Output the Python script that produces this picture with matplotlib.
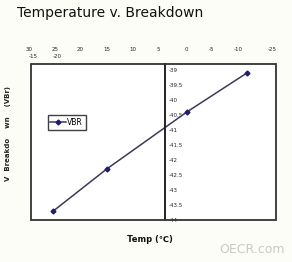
import matplotlib.pyplot as plt
from matplotlib.patches import Rectangle
import numpy as np

# data
temps = [25, 13, -5, -18.5]
vbr = [-43.7, -42.3, -40.4, -39.1]

# top tick labels as they appear (misaligned in the original)
top_labels = ["30", "25", "20", "15", "10", "5", "0", "-5", "-10", "-25"]
top_label_pos = [30.4, 24.6, 19.0, 12.9, 7.1, 1.3, -5.0, -10.6, -16.5, -24.1]
second_row_labels = ["-15", "-20"]
second_row_pos = [29.5, 24.2]

y_ticks = np.arange(-44, -38.9, 0.5)

fig = plt.figure(figsize=(2.92, 2.62), dpi=100)
fig.patch.set_facecolor("#fdfdf8")

fig.text(0.058, 0.95, "Temperature v. Breakdown", fontsize=10, va="center",
         ha="left", color="#111111")

ax = fig.add_axes([0.106, 0.160, 0.839, 0.596])
ax.set_facecolor("white")

ax.plot(temps, vbr, color="#3a3a5c", lw=1.1, marker="D", markersize=2.5,
        markerfacecolor="#1f1f6e", markeredgecolor="#1f1f6e", label="VBR")

ax.set_xlim(30, -25)
ax.set_ylim(-44, -38.8)

# middle vertical axis at temp 0 with labels on its right
for s in ["top", "bottom", "left"]:
    ax.spines[s].set_visible(False)
ax.spines["right"].set_position(("data", 0))
ax.spines["right"].set_linewidth(1.4)
ax.spines["right"].set_color("#222222")
ax.yaxis.tick_right()
ax.set_yticks(y_ticks)
ax.set_yticklabels(["%g" % v for v in y_ticks])
ax.tick_params(axis="y", length=0, pad=3, labelsize=4, labelcolor="#222222")
ax.set_xticks([])

# outer box
ax.add_patch(Rectangle((0, 0), 1, 1, transform=ax.transAxes, fill=False,
                       lw=1.3, edgecolor="#333333", clip_on=False, zorder=5))

trans = ax.get_xaxis_transform()
for lab, pos in zip(top_labels, top_label_pos):
    ax.text(pos, 1.09, lab, transform=trans, fontsize=4, ha="center",
            va="center", color="#222222", clip_on=False)
for lab, pos in zip(second_row_labels, second_row_pos):
    ax.text(pos, 1.045, lab, transform=trans, fontsize=4, ha="center",
            va="center", color="#222222", clip_on=False)

leg = ax.legend(loc="upper left", bbox_to_anchor=(0.068, 0.67), fontsize=5.5,
                frameon=True, fancybox=False, handlelength=2.0,
                handletextpad=0.2, borderpad=0.35, borderaxespad=0)
leg.get_frame().set_edgecolor("#111111")
leg.get_frame().set_linewidth(1.0)

fig.text(0.028, 0.49, "V  Breakdo    wn    (VBr)", rotation=90, fontsize=5,
         fontweight="bold", ha="center", va="center", color="#222222")
fig.text(0.514, 0.084, "Temp (\u2103)", fontsize=6, fontweight="bold",
         ha="center", va="center", color="#111111")
fig.text(0.863, 0.046, "OECR.com", fontsize=9, ha="center", va="center",
         color="#c9c9c9")

fig.savefig("out.png", dpi=100, facecolor=fig.get_facecolor())
